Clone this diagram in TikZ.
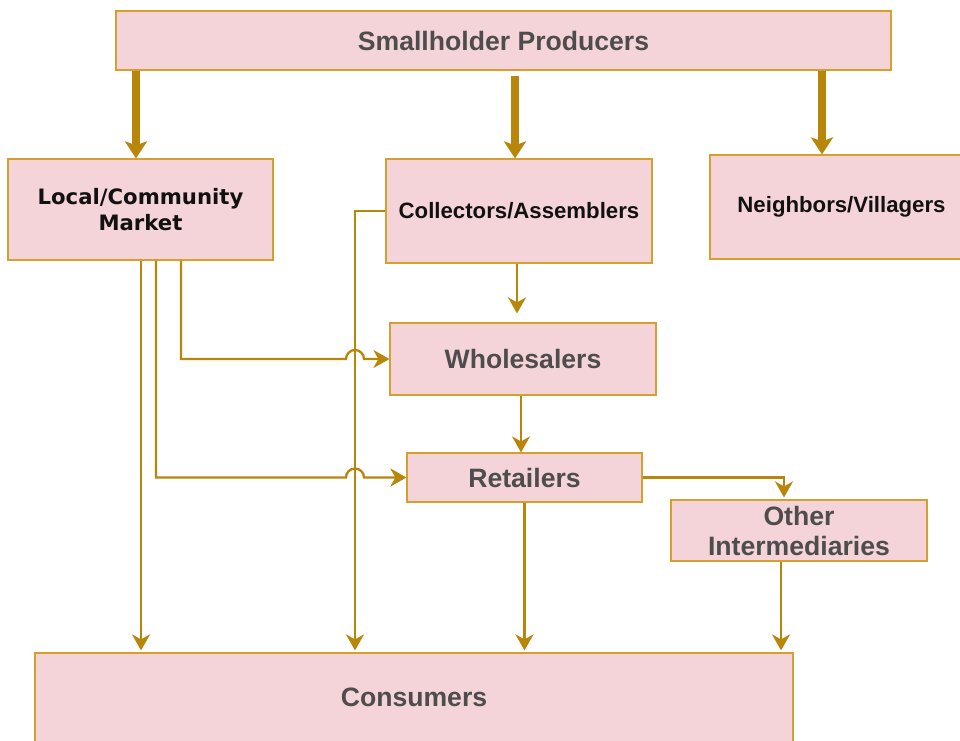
\documentclass[tikz,border=0pt]{standalone}
\usepackage{fontspec}
\setmainfont{Liberation Sans}
\newfontfamily\dvfont{DejaVu Sans}
\usetikzlibrary{arrows.meta,calc}
\definecolor{boxfill}{HTML}{F4D4D8}
\definecolor{boxline}{HTML}{D6A030}
\definecolor{arrowc}{HTML}{B8860B}
\definecolor{txtgrey}{HTML}{4D4D4D}
\definecolor{txtblack}{HTML}{111111}
\begin{document}
\begin{tikzpicture}[x=1pt,y=-1pt,
  box/.style={draw=boxline, line width=1.2pt, fill=boxfill, inner sep=0pt, align=center},
  greytxt/.style={text=txtgrey, font=\fontsize{26.6}{30}\selectfont\bfseries},
  blacktxt/.style={text=txtblack, font=\fontsize{22.2}{26}\selectfont\bfseries},
  tahomatxt/.style={text=txtblack, font=\dvfont\fontsize{21.2}{26}\selectfont\bfseries},
  bigarrow/.style={draw=arrowc, line width=7.5pt, -{Stealth[length=17pt,width=22pt,inset=4pt]}},
  conn/.style={draw=arrowc, line width=2.3pt, -{Stealth[length=16pt,width=18pt,inset=5pt]}}
]
\clip (0,0) rectangle (960,740);
\fill[white] (0,0) rectangle (960,740);

\node[box, greytxt, minimum width=775pt, minimum height=59pt] (sp) at (503.5,40.5) {Smallholder Producers};
\node[box, tahomatxt, minimum width=265pt, minimum height=101pt] (lc) at (140.5,209.5) {Local/Community\\Market};
\node[box, blacktxt, minimum width=266pt, minimum height=104pt] (ca) at (519,211) {Collectors/Assemblers};
\node[box, blacktxt, minimum width=263pt, minimum height=104pt] (nv) at (841.5,207) {Neighbors/Villagers};
\node[box, greytxt, minimum width=266pt, minimum height=72pt] (wh) at (523,359) {Wholesalers};
\node[box, greytxt, minimum width=235pt, minimum height=49pt] (rt) at (524.5,477.5) {Retailers};
\node[box, greytxt, minimum width=256pt, minimum height=61pt] (oi) at (799,530.5) {Other\\Intermediaries};
\node[box, greytxt, minimum width=758pt, minimum height=94pt] (cs) at (414,700) {\raisebox{6pt}{Consumers}};

\coordinate (xa) at (136,0);
\coordinate (xb) at (515,0);
\coordinate (xc) at (822,0);
\coordinate (x517) at (517,0);
\coordinate (x521) at (521,0);
\coordinate (x784) at (784,0);
\coordinate (x781) at (781,0);
\coordinate (x355) at (355,0);
\coordinate (x181) at (181,0);
\coordinate (x156) at (156,0);
\coordinate (x141) at (141,0);

\draw[bigarrow] (sp.south -| xa) -- (lc.north -| xa);
\draw[bigarrow, shorten <=5pt] (sp.south -| xb) -- (ca.north -| xb);
\draw[bigarrow] (sp.south -| xc) -- (nv.north -| xc);

\draw[conn, shorten >=9pt] (ca.south -| x517) -- (wh.north -| x517);
\draw[conn] (wh.south -| x521) -- (rt.north -| x521);
\draw[conn, shorten >=2pt] (rt.south) -- (rt.south |- cs.north);
\draw[conn, shorten >=2pt] (rt.east) -| (oi.north -| x784);
\draw[conn, shorten >=2pt] (oi.south -| x781) -- (cs.north -| x781);
\draw[conn, shorten >=2pt] (ca.west) -| (cs.north -| x355);
\draw[conn] (lc.south -| x181) |- ($(wh.west -| x355)+(-9,0)$) arc[start angle=180,end angle=0,radius=9pt] -- (wh.west);
\draw[conn] (lc.south -| x156) |- ($(rt.west -| x355)+(-9,0)$) arc[start angle=180,end angle=0,radius=9pt] -- (rt.west);
\draw[conn, shorten >=2pt] (lc.south -| x141) -- (cs.north -| x141);
\end{tikzpicture}
\end{document}
